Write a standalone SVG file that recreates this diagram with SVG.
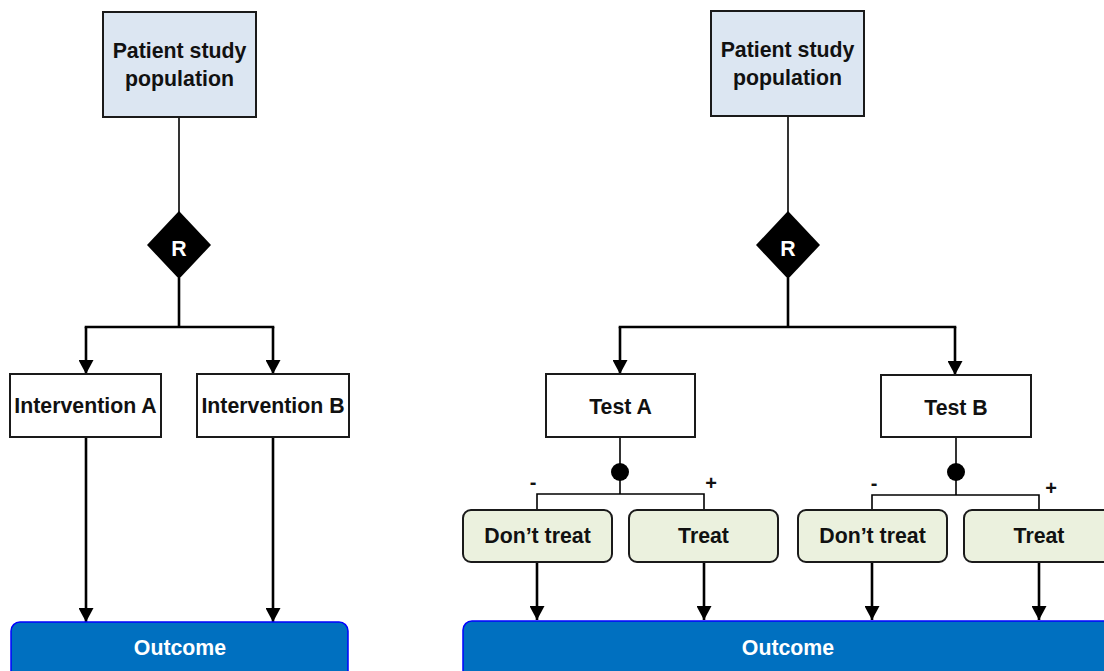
<svg xmlns="http://www.w3.org/2000/svg" width="1104" height="671" viewBox="0 0 1104 671">
  <style>
    .lbl { font-family: "Liberation Sans", Arial, sans-serif; font-weight: bold; font-size: 21.3px; fill: #111; text-anchor: middle; }
    .white { fill: #fff; }
    .sign { font-size: 20px; }
    .pop { fill: #dce6f2; stroke: #1a1a1a; stroke-width: 2; }
    .plain { fill: #fff; stroke: #1a1a1a; stroke-width: 2; }
    .choice { fill: #ebf1de; stroke: #1a1a1a; stroke-width: 2; }
    .outcome { fill: #0070c0; stroke: #0000ff; stroke-width: 1.5; }
    .thin { fill: none; stroke: #000; stroke-width: 1.6; }
    .thick { fill: none; stroke: #000; stroke-width: 2.6; }
    .arrow { fill: none; stroke: #000; stroke-width: 2.6; marker-end: url(#head); }
  </style>
  <defs>
    <marker id="head" markerUnits="userSpaceOnUse" viewBox="0 0 14 15" refX="14" refY="7.5" markerWidth="14" markerHeight="15" orient="auto">
      <path d="M0,0 L14,7.5 L0,15 z" fill="#000"/>
    </marker>
  </defs>

  <rect width="1104" height="671" fill="#fff"/>

  <!-- connectors -->
  <g id="connectors">
    <!-- left trial -->
    <path class="thin" d="M179,117 V212"/>
    <path class="thick" d="M179,278 V327"/>
    <path class="thick" d="M84.7,327 H274.3"/>
    <path class="arrow" d="M86,327 V374"/>
    <path class="arrow" d="M273,327 V374"/>
    <path class="arrow" d="M86,437 V622"/>
    <path class="arrow" d="M273,437 V622"/>

    <!-- right trial -->
    <path class="thin" d="M788,116 V212"/>
    <path class="thick" d="M788,278 V327"/>
    <path class="thick" d="M618.7,327 H956.3"/>
    <path class="arrow" d="M620,327 V374"/>
    <path class="arrow" d="M955,327 V375"/>

    <path class="thin" d="M620,437 V494"/>
    <path class="thin" d="M537,510 V494 H704 V510"/>
    <circle cx="620" cy="472" r="9" fill="#000"/>

    <path class="thin" d="M956,437 V495"/>
    <path class="thin" d="M872,510 V495 H1039 V510"/>
    <circle cx="956" cy="472" r="9" fill="#000"/>

    <path class="arrow" d="M537,562 V620"/>
    <path class="arrow" d="M704,562 V620"/>
    <path class="arrow" d="M872,562 V620"/>
    <path class="arrow" d="M1039,562 V620"/>

    <text class="lbl sign" x="533" y="489">-</text>
    <text class="lbl sign" x="711" y="490">+</text>
    <text class="lbl sign" x="874" y="490">-</text>
    <text class="lbl sign" x="1051" y="495">+</text>
  </g>

  <!-- left trial nodes -->
  <g id="population-left">
    <rect class="pop" x="103" y="12" width="153" height="105"/>
    <text class="lbl" x="179.5" y="58">Patient study</text>
    <text class="lbl" x="179.5" y="86">population</text>
  </g>
  <g id="randomise-left">
    <polygon points="179,211 211,245 179,279 147,245" fill="#000"/>
    <text class="lbl white" x="179" y="256" font-size="17">R</text>
  </g>
  <g id="intervention-a">
    <rect class="plain" x="10" y="374" width="151" height="63"/>
    <text class="lbl" x="85.5" y="413">Intervention A</text>
  </g>
  <g id="intervention-b">
    <rect class="plain" x="197" y="374" width="152" height="63"/>
    <text class="lbl" x="273" y="413">Intervention B</text>
  </g>
  <g id="outcome-left">
    <rect class="outcome" x="11" y="622" width="337" height="62" rx="9"/>
    <text class="lbl white" x="180" y="655">Outcome</text>
  </g>

  <!-- right trial nodes -->
  <g id="population-right">
    <rect class="pop" x="711" y="11" width="153" height="105"/>
    <text class="lbl" x="787.5" y="57">Patient study</text>
    <text class="lbl" x="787.5" y="85">population</text>
  </g>
  <g id="randomise-right">
    <polygon points="788,211 820,245 788,279 756,245" fill="#000"/>
    <text class="lbl white" x="788" y="256" font-size="17">R</text>
  </g>
  <g id="test-a">
    <rect class="plain" x="546" y="374" width="149" height="63"/>
    <text class="lbl" x="620.5" y="414">Test A</text>
  </g>
  <g id="test-b">
    <rect class="plain" x="881" y="375" width="150" height="62"/>
    <text class="lbl" x="956" y="415">Test B</text>
  </g>
  <g id="dont-treat-a">
    <rect class="choice" x="463" y="510" width="149" height="52" rx="8"/>
    <text class="lbl" x="537.5" y="543">Don’t treat</text>
  </g>
  <g id="treat-a">
    <rect class="choice" x="629" y="510" width="149" height="52" rx="8"/>
    <text class="lbl" x="703.5" y="543">Treat</text>
  </g>
  <g id="dont-treat-b">
    <rect class="choice" x="798" y="510" width="149" height="52" rx="8"/>
    <text class="lbl" x="872.5" y="543">Don’t treat</text>
  </g>
  <g id="treat-b">
    <rect class="choice" x="964" y="510" width="149" height="52" rx="8"/>
    <text class="lbl" x="1039" y="543">Treat</text>
  </g>
  <g id="outcome-right">
    <rect class="outcome" x="463" y="621" width="660" height="62" rx="9"/>
    <text class="lbl white" x="788" y="655">Outcome</text>
  </g>
</svg>
